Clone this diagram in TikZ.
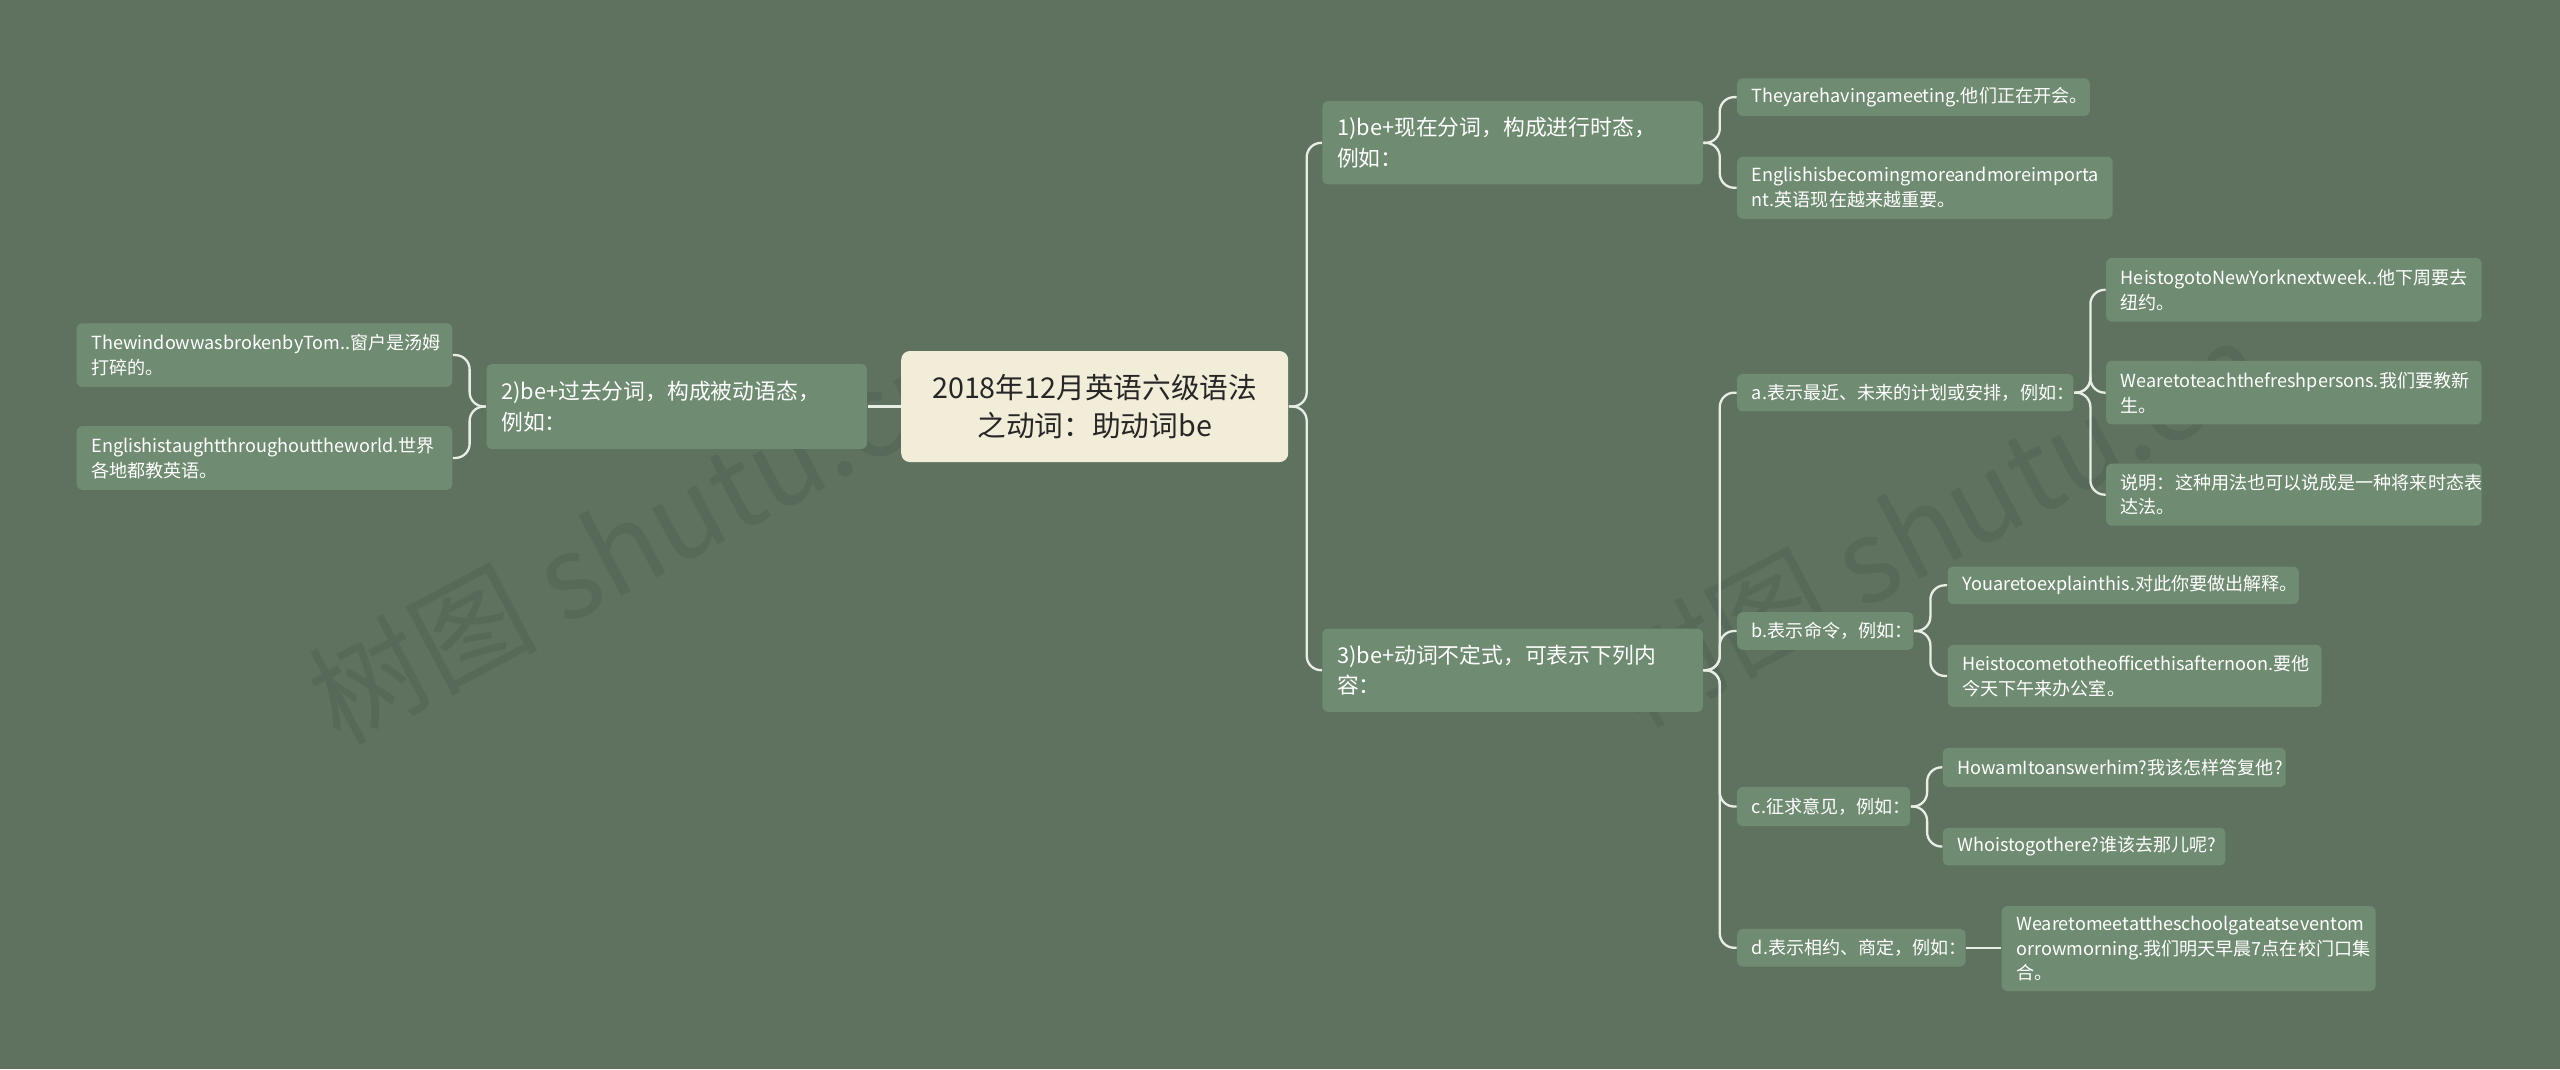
\documentclass[tikz,border=0pt]{standalone}
\usepackage{fontspec}
\setmainfont{Noto Sans CJK SC}
\usetikzlibrary{positioning}
\definecolor{bgcol}{HTML}{5F7260}
\definecolor{boxcol}{HTML}{6F8B71}
\definecolor{rootcol}{HTML}{F2EDD8}
\definecolor{linecol}{HTML}{E8EDE6}
\tikzset{
  leaf/.style={fill=boxcol, rounded corners=2pt, text=white, align=left, inner xsep=5pt, inner ysep=1pt, font=\fontsize{6.3pt}{8.6pt}\selectfont},
  branch/.style={leaf, font=\fontsize{7.6pt}{10.6pt}\selectfont},
  root/.style={fill=rootcol, rounded corners=3pt, text=black!85, align=center, font=\fontsize{10pt}{13pt}\selectfont},
  link/.style={draw=linecol, line width=0.8pt, rounded corners=5pt},
  straight/.style={draw=linecol, line width=0.8pt}
}
% box from (x1,y1) to (x2,y2) in pixels
\newcommand{\pbox}[7]{%
  \pgfmathsetmacro\tw{(#5-#3)*0.02-0.36}%
  \node[#2, minimum width={(#5-#3)*0.02cm}, minimum height={(#6-#4)*0.02cm}, text width=\tw cm] (#1) at ({(#3+#5)/2},{(#4+#6)/2}) {#7};}
\begin{document}
\begin{tikzpicture}[x=0.02cm, y=-0.02cm]
\fill[bgcol] (0,0) rectangle (1568,655);
\useasboundingbox (0,0) rectangle (1568,655);
% watermark
\node[text=black, opacity=0.08, rotate=28, font=\fontsize{40pt}{40pt}\selectfont] (wm1) at (390,330) {树图 shutu.cn};
\node[text=black, opacity=0.08, rotate=28, font=\fontsize{40pt}{40pt}\selectfont] (wm2) at (1185,320) {树图 shutu.cn};
% root
\node[root, minimum width={237*0.02cm}, minimum height={68*0.02cm}] (root) at (670.5,249) {2018年12月英语六级语法\\之动词：助动词be};
% left
\pbox{pass}{branch}{298}{223}{531}{275}{2)be+过去分词，构成被动语态，\\例如：}
\pbox{pass1}{leaf}{47}{198}{277}{237}{ThewindowwasbrokenbyTom..窗户是汤姆\\打碎的。}
\pbox{pass2}{leaf}{47}{261}{277}{300}{Englishistaughtthroughouttheworld.世界\\各地都教英语。}
% right top
\pbox{prog}{branch}{810}{62}{1043}{113}{1)be+现在分词，构成进行时态，\\例如：}
\pbox{prog1}{leaf}{1064}{48}{1280}{71}{Theyarehavingameeting.他们正在开会。}
\pbox{prog2}{leaf}{1064}{96}{1294}{134}{Englishisbecomingmoreandmoreimporta\\nt.英语现在越来越重要。}
% right bottom
\pbox{inf}{branch}{810}{385}{1043}{436}{3)be+动词不定式，可表示下列内\\容：}
\pbox{plan}{leaf}{1064}{229}{1270}{252}{a.表示最近、未来的计划或安排，例如：}
\pbox{plan1}{leaf}{1290}{158}{1520}{197}{HeistogotoNewYorknextweek..他下周要去\\纽约。}
\pbox{plan2}{leaf}{1290}{221}{1520}{260}{Wearetoteachthefreshpersons.我们要教新\\生。}
\pbox{plan3}{leaf}{1290}{284}{1520}{322}{说明：这种用法也可以说成是一种将来时态表\\达法。}
\pbox{order}{leaf}{1064}{375}{1172}{398}{b.表示命令，例如：}
\pbox{order1}{leaf}{1193}{347}{1408}{370}{Youaretoexplainthis.对此你要做出解释。}
\pbox{order2}{leaf}{1193}{395}{1422}{433}{Heistocometotheofficethisafternoon.要他\\今天下午来办公室。}
\pbox{ask}{leaf}{1064}{482}{1170}{506}{c.征求意见，例如：}
\pbox{ask1}{leaf}{1190}{458}{1400}{482}{HowamItoanswerhim?我该怎样答复他?}
\pbox{ask2}{leaf}{1190}{507}{1363}{530}{Whoistogothere?谁该去那儿呢?}
\pbox{meet}{leaf}{1064}{569}{1204}{592}{d.表示相约、商定，例如：}
\pbox{meet1}{leaf}{1226}{555}{1455}{607}{Wearetomeetattheschoolgateatseventom\\orrowmorning.我们明天早晨7点在校门口集\\合。}
% connectors
\foreach \p/\c/\s in {root/prog/11, root/inf/11, prog/prog1/10, prog/prog2/10, inf/plan/10, inf/order/10, inf/ask/10, inf/meet/10, plan/plan1/10, plan/plan2/10, plan/plan3/10, order/order1/10, order/order2/10, ask/ask1/10, ask/ask2/10}
  \draw[link] (\p.east) -- ++(\s,0) |- (\c.west);
\draw[straight] (meet.east) -- (meet.east -| meet1.west);
\draw[straight] (root.west) -- (root.west -| pass.east);
\foreach \p/\c in {pass/pass1, pass/pass2}
  \draw[link] (\p.west) -- ++(-10,0) |- (\c.east);
\end{tikzpicture}
\end{document}
